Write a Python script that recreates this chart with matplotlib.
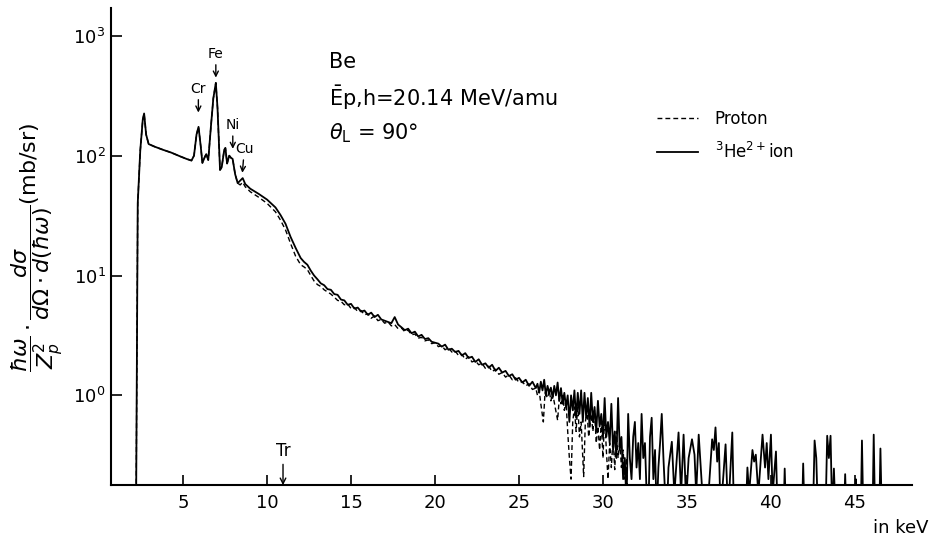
import matplotlib

matplotlib.use("Agg")
import matplotlib.pyplot as plt
import numpy as np
from matplotlib.ticker import FixedLocator, NullLocator

# photon energy (keV) and intensity (mb/sr)
# low-energy part is the same for both projectiles
e_common = [2.2, 2.3, 2.45, 2.6, 2.68, 2.8, 2.95, 3.3, 3.8, 4.3, 4.8, 5.2, 5.5,
            5.65, 5.8, 5.92, 6.05, 6.15, 6.3, 6.38, 6.5, 6.65, 6.8, 6.95, 7.05,
            7.2, 7.3, 7.45, 7.52, 7.62, 7.75, 7.85, 7.95, 8.1, 8.25]
s_common = [0.1, 40, 110, 200, 225, 150, 125, 119, 112, 106, 99, 94, 91,
            100, 150, 174, 120, 87, 98, 103, 92, 170, 300, 405, 250,
            76, 80, 112, 116, 86, 100, 96, 94, 70, 59]

e_he = [8.4, 8.55, 8.7, 9.0, 9.5, 10.0, 10.5, 10.8, 11.1, 11.4, 11.7, 12.0,
        12.2, 12.4, 12.6, 12.8, 13.0, 13.2, 13.4, 13.6, 13.8, 14.0, 14.2,
        14.4, 14.6, 14.8, 15.0, 15.2, 15.4, 15.6, 15.8, 16.0, 16.2, 16.4,
        16.6, 16.8, 17.0, 17.2, 17.4, 17.6, 17.8, 18.0, 18.2, 18.4, 18.6,
        18.8, 19.0, 19.2, 19.4, 19.6, 19.8, 20.0, 20.2, 20.4, 20.6, 20.8,
        21.0, 21.2, 21.4, 21.6, 21.8, 22.0, 22.2, 22.4, 22.6, 22.8, 23.0,
        23.2, 23.4, 23.6, 23.8, 24.0, 24.2, 24.4, 24.6, 24.8, 25.0, 25.2,
        25.4, 25.6, 25.8,
        26.0, 26.1, 26.2, 26.3, 26.4, 26.5, 26.6, 26.7, 26.8, 26.9,
        27.0, 27.1, 27.2, 27.3, 27.4, 27.5, 27.6, 27.7, 27.8, 27.9,
        28.0, 28.1, 28.2, 28.3, 28.4, 28.5, 28.6, 28.7, 28.8, 28.9,
        29.0, 29.1, 29.2, 29.3, 29.4, 29.5, 29.6, 29.7, 29.8, 29.9,
        30.0, 30.1, 30.2, 30.3, 30.4, 30.5, 30.6, 30.7, 30.8, 30.9,
        31.0, 31.1, 31.2, 31.3, 31.4, 31.5, 31.6, 31.7, 31.8, 31.9,
        32.0, 32.1, 32.2, 32.3, 32.4, 32.5, 32.6, 32.7, 32.8, 32.9,
        33.0, 33.1, 33.2, 33.3, 33.4, 33.5, 33.6, 33.7, 33.8,
        33.9, 34.1, 34.25, 34.5, 34.65, 34.8, 34.95, 35.1, 35.3, 35.45,
        35.55, 35.7, 35.85, 36.0, 36.2, 36.5, 36.6, 36.7, 36.8, 36.9,
        37.0, 37.3, 37.45, 37.7, 37.8, 38.5, 38.6, 38.7, 38.9, 39.0,
        39.1, 39.25, 39.5, 39.65, 39.75, 39.85, 40.0, 40.1, 40.3, 40.4,
        40.75, 40.82, 40.9, 41.85, 41.92, 42.0, 42.5, 42.6, 42.7, 42.8,
        43.25, 43.35, 43.45, 43.55, 43.65, 43.75, 43.85, 44.35, 44.42,
        44.5, 45.0, 45.05, 45.1, 45.35, 45.42, 45.5, 46.05, 46.12, 46.2,
        46.45, 46.52, 46.6, 47.5]
s_he = [62, 65, 58, 53, 48, 43, 37, 32, 27, 21, 17, 14,
        13, 12.3, 11, 10, 9.3, 8.6, 8.3, 7.7, 7.6, 7.0, 6.9,
        6.3, 6.2, 5.7, 5.8, 5.3, 5.4, 5.0, 5.1, 4.7, 4.9, 4.5,
        4.7, 4.3, 4.2, 4.1, 4.0, 4.5, 3.9, 3.7, 3.5, 3.6, 3.3,
        3.4, 3.1, 3.2, 2.95, 3.0, 2.8, 2.75, 2.7, 2.55, 2.65, 2.4,
        2.45, 2.3, 2.35, 2.15, 2.25, 2.05, 2.1, 1.9, 2.0, 1.8, 1.85,
        1.7, 1.8, 1.6, 1.7, 1.55, 1.6, 1.45, 1.5, 1.35, 1.4, 1.28,
        1.35, 1.2, 1.3,
        1.15, 1.25, 1.05, 1.3, 1.1, 1.35, 1.0, 1.2, 1.05, 1.16,
        0.95, 1.2, 1.0, 1.28, 0.9, 1.15, 0.85, 1.05, 0.8, 1.0,
        0.6, 1.0, 0.75, 1.1, 0.65, 1.05, 0.7, 1.1, 0.6, 1.05,
        0.65, 0.95, 0.55, 1.05, 0.6, 0.8, 0.5, 0.9, 0.55, 0.7,
        0.45, 0.95, 0.45, 0.6, 0.4, 0.85, 0.35, 0.5, 0.3, 0.95,
        0.35, 0.45, 0.2, 0.3, 0.12, 0.7, 0.3, 0.2, 0.45, 0.6,
        0.25, 0.4, 0.2, 0.7, 0.3, 0.4, 0.15, 0.1, 0.45, 0.65,
        0.2, 0.35, 0.1, 0.25, 0.4, 0.7, 0.3, 0.15, 0.1,
        0.25, 0.41, 0.15, 0.49, 0.15, 0.47, 0.13, 0.3, 0.43, 0.32,
        0.15, 0.47, 0.22, 0.1, 0.1, 0.43, 0.35, 0.54, 0.28, 0.4,
        0.1, 0.39, 0.1, 0.49, 0.1, 0.1, 0.25, 0.15, 0.35, 0.28,
        0.32, 0.15, 0.47, 0.25, 0.4, 0.2, 0.47, 0.15, 0.34, 0.1,
        0.1, 0.245, 0.1, 0.1, 0.27, 0.1, 0.1, 0.42, 0.3, 0.1,
        0.1, 0.46, 0.3, 0.46, 0.1, 0.245, 0.1, 0.1, 0.22,
        0.1, 0.1, 0.2, 0.1, 0.1, 0.42, 0.1, 0.1, 0.47, 0.1,
        0.1, 0.36, 0.1, 0.1]

e_proton = [8.4, 8.55, 8.7, 9.0, 9.5, 10.0, 10.5, 10.8, 11.1, 11.4, 11.7,
            12.0, 12.2, 12.4, 12.6, 12.8, 13.0, 13.2, 13.4, 13.6, 13.8, 14.0,
            14.2, 14.4, 14.6, 14.8, 15.0, 15.2, 15.4, 15.6, 15.8, 16.0, 16.2,
            16.4, 16.6, 16.8, 17.0, 17.2, 17.4, 17.6, 17.8, 18.0, 18.2, 18.4,
            18.6, 18.8, 19.0, 19.2, 19.4, 19.6, 19.8, 20.0, 20.2, 20.4, 20.6,
            20.8, 21.0, 21.2, 21.4, 21.6, 21.8, 22.0, 22.2, 22.4, 22.6, 22.8,
            23.0, 23.2, 23.4, 23.6, 23.8, 24.0, 24.2, 24.4, 24.6, 24.8, 25.0,
            25.2, 25.4, 25.6, 25.8,
            26.0, 26.1, 26.2, 26.3, 26.45, 26.55, 26.7, 26.8, 26.9, 27.0,
            27.15, 27.3, 27.4, 27.5, 27.6, 27.7, 27.8, 27.9, 28.0, 28.1,
            28.2, 28.3, 28.4, 28.5, 28.6, 28.7, 28.8, 28.85, 28.95, 29.05,
            29.15, 29.3, 29.4, 29.5, 29.6, 29.7, 29.8, 29.9, 30.0, 30.1,
            30.2, 30.3, 30.4, 30.5, 30.6, 30.7, 30.8, 30.9, 31.0, 31.1,
            31.2, 31.3, 31.4, 31.5]
s_proton = [57, 60, 55, 50, 45, 40, 34, 29, 24, 18.5, 14.5,
            12.3, 11.8, 11.2, 10, 9, 8.4, 8.1, 7.6, 7.3, 7.0, 6.6,
            6.2, 6.1, 5.7, 5.8, 5.3, 5.4, 5.0, 5.1, 4.7, 4.8, 4.4,
            4.6, 4.2, 4.3, 4.0, 4.1, 3.8, 3.9, 3.6, 3.65, 3.4, 3.5,
            3.2, 3.25, 3.0, 3.05, 2.85, 2.9, 2.7, 2.75, 2.55, 2.6, 2.4,
            2.5, 2.3, 2.35, 2.15, 2.2, 2.0, 2.1, 1.9, 1.95, 1.8, 1.85,
            1.68, 1.75, 1.58, 1.65, 1.5, 1.55, 1.42, 1.48, 1.35, 1.4, 1.28,
            1.3, 1.2, 1.25, 1.12,
            1.15, 1.0, 1.1, 0.85, 0.6, 1.05, 0.95, 1.1, 0.9, 1.05,
            0.8, 0.62, 0.95, 0.85, 1.0, 0.75, 0.9, 0.5, 0.3, 0.2,
            0.6, 0.8, 0.5, 0.85, 0.45, 0.6, 0.3, 0.21, 0.6, 0.75,
            0.45, 0.7, 0.5, 0.75, 0.4, 0.55, 0.35, 0.6, 0.3, 0.7,
            0.35, 0.2, 0.4, 0.25, 0.45, 0.24, 0.5, 0.3, 0.42, 0.25,
            0.35, 0.2, 0.3, 0.1]

# characteristic lines marked with arrows
line_names = ["Cr", "Fe", "Ni", "Cu"]
line_kev = [5.91, 6.95, 7.96, 8.53]
line_tip = [229, 448, 114, 72]
tr_kev = 10.95

x_ticks = [5, 10, 15, 20, 25, 30, 35, 40, 45]
y_ticks = [1, 10, 100, 1000]

plt.rcParams["font.family"] = ["DejaVu Sans"]
plt.rcParams["mathtext.fontset"] = "dejavusans"

fig = plt.figure(figsize=(9.33, 5.47), dpi=100)
ax = fig.add_axes([0.119, 0.113, 0.8585, 0.872])

ax.plot(e_common + e_proton, s_common + s_proton, color="black",
        lw=1.0, ls=(0, (3.5, 2.2)), label="Proton")
ax.plot(e_common + e_he, s_common + s_he, color="black",
        lw=1.3, label=r"$^{3}$He$^{2+}$ion")

ax.set_yscale("log")
ax.set_xlim(0.71, 48.4)
ax.set_ylim(0.178, 1700)
ax.xaxis.set_major_locator(FixedLocator(x_ticks))
ax.yaxis.set_major_locator(FixedLocator(y_ticks))
ax.yaxis.set_minor_locator(NullLocator())
ax.tick_params(axis="x", direction="in", length=7, width=1.2, labelsize=13, pad=6)
ax.tick_params(axis="y", direction="in", length=8, width=1.2, labelsize=13, pad=4)
for side in ["top", "right"]:
    ax.spines[side].set_visible(False)
for side in ["left", "bottom"]:
    ax.spines[side].set_linewidth(1.5)

for name, kev, tip in zip(line_names, line_kev, line_tip):
    ax.annotate(name, xy=(kev, tip), xytext=(2 if name == "Cu" else 0, 24),
                textcoords="offset pixels", ha="center", va="center",
                fontsize=10,
                arrowprops=dict(arrowstyle="->", color="black", lw=1.0,
                                shrinkA=1, shrinkB=0, mutation_scale=9))
ax.annotate("Tr", xy=(tr_kev, 0), xycoords=("data", "axes fraction"),
            xytext=(0, 34), textcoords="offset pixels", ha="center",
            va="center", fontsize=12,
            arrowprops=dict(arrowstyle="->", color="black", lw=1.0,
                            shrinkA=1, shrinkB=0, mutation_scale=10))

ax.text(0.272, 0.887, "Be", transform=ax.transAxes, fontsize=15,
        va="center", ha="left")
ax.text(0.272, 0.813, r"$\bar{\mathrm{E}}$p,h=20.14 MeV/amu",
        transform=ax.transAxes, fontsize=15, va="center", ha="left")
ax.text(0.272, 0.738, r"$\theta_{\mathrm{L}}$ = 90°", transform=ax.transAxes,
        fontsize=15, va="center", ha="left")

ax.legend(loc="upper left", bbox_to_anchor=(0.682, 0.786), frameon=False,
          fontsize=12, handlelength=2.45, handletextpad=1.0,
          labelspacing=0.8, borderpad=0, borderaxespad=0)

fig.text(0.04, 0.548,
         r"$\dfrac{\hbar\omega}{Z_p^2}\cdot\dfrac{d\sigma}{d\Omega\cdot d(\hbar\omega)}$(mb/sr)",
         rotation=90, ha="center", va="center", fontsize=16)
fig.text(0.965, 0.035, "in keV", ha="center", va="center", fontsize=13)

fig.savefig("out.png", dpi=100)
